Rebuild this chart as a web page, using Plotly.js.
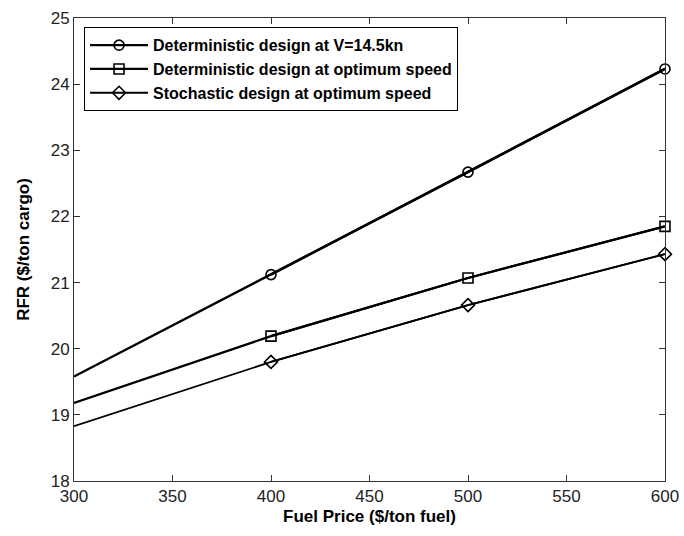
<!DOCTYPE html>
<html>
<head>
<meta charset="utf-8">
<script src="https://cdn.plot.ly/plotly-3.0.1.min.js"></script>
<style>html,body{margin:0;padding:0;background:#fff;}</style>
</head>
<body>
<div id="chart" style="width:684px;height:536px;"></div>
<script>
const fuelPrice = [300, 400, 500, 600];
const detV145 = [19.58, 21.12, 22.67, 24.23];
const detOpt = [19.18, 20.19, 21.07, 21.85];
const stochOpt = [18.83, 19.80, 20.66, 21.43];
const names = [
  "Deterministic design at V=14.5kn",
  "Deterministic design at optimum speed",
  "Stochastic design at optimum speed"
];
const symbols = ["circle-open", "square-open", "diamond-open"];
const widths = [2.4, 2.2, 1.8];
const series = [detV145, detOpt, stochOpt];

const traces = [];
series.forEach((ys, i) => {
  traces.push({
    x: fuelPrice, y: ys, mode: "lines", showlegend: false, hoverinfo: "skip",
    line: {color: "#000", width: widths[i]}
  });
  traces.push({
    x: fuelPrice.slice(1), y: ys.slice(1), mode: "lines+markers", name: "<b>" + names[i] + "</b>",
    line: {color: "#000", width: widths[i]},
    marker: {symbol: symbols[i], size: 10, color: "#000", line: {color: "#000", width: 1.6}},
    cliponaxis: false
  });
});

const layout = {
  width: 684, height: 536,
  margin: {l: 74, r: 19, t: 18, b: 55},
  paper_bgcolor: "#fff", plot_bgcolor: "#fff",
  font: {family: "Liberation Sans, Arial, sans-serif", color: "#000"},
  xaxis: {
    range: [300, 600], tickvals: [300, 350, 400, 450, 500, 550, 600],
    ticks: "inside", ticklen: 6, tickcolor: "#333", tickwidth: 1,
    showline: true, linecolor: "#333", linewidth: 1, mirror: "ticks",
    showgrid: false, zeroline: false,
    tickfont: {size: 17, color: "#222"},
    title: {text: "<b>Fuel Price ($/ton fuel)</b>", font: {size: 17}, standoff: 4}
  },
  yaxis: {
    range: [18, 25], tickvals: [18, 19, 20, 21, 22, 23, 24, 25],
    ticks: "inside", ticklen: 6, tickcolor: "#333", tickwidth: 1,
    showline: true, linecolor: "#333", linewidth: 1, mirror: "ticks",
    showgrid: false, zeroline: false,
    tickfont: {size: 17, color: "#222"},
    title: {text: "<b>RFR ($/ton cargo)</b>", font: {size: 17}, standoff: 16}
  },
  legend: {
    x: 0.017, y: 0.98, xanchor: "left", yanchor: "top",
    bordercolor: "#000", borderwidth: 1, bgcolor: "#fff",
    font: {size: 16, family: "Liberation Sans, Arial, sans-serif"},
    itemwidth: 58,
    tracegroupgap: 0
  },
  showlegend: true
};

Plotly.newPlot("chart", traces, layout, {displayModeBar: false, staticPlot: true});
</script>
</body>
</html>
